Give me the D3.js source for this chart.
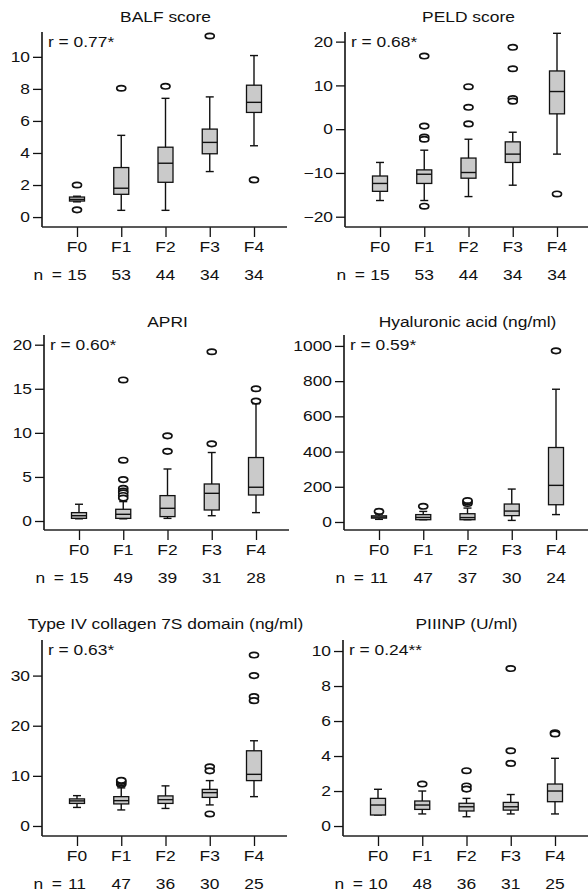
<!DOCTYPE html>
<html>
<head>
<meta charset="utf-8">
<script src="https://cdn.jsdelivr.net/npm/d3@7"></script>
<style>body{margin:0;background:#fff}</style>
</head>
<body>
<div id="g"></div>
<script>
var stages = ["F0", "F1", "F2", "F3", "F4"];

// each box: [lower whisker, q1, median, q3, upper whisker]
var balfBoxes = [[0.95, 1.0, 1.1, 1.25, 1.3], [0.42, 1.42, 1.8, 3.09, 5.1], [0.42, 2.17, 3.36, 4.36, 7.41], [2.84, 3.95, 4.66, 5.49, 7.5], [4.45, 6.53, 7.16, 8.23, 10.08]];
var balfOutliers = [[2.0, 0.45], [8.04], [8.16], [11.3], [2.32]];
var balfN = [15, 53, 44, 34, 34];

var peldBoxes = [[-16.3, -14.2, -12.4, -10.7, -7.6], [-16.3, -12.4, -10.3, -9.3, -4.8], [-15.4, -11.2, -9.9, -6.6, -2.3], [-12.8, -7.6, -5.7, -2.9, -0.7], [-5.7, 3.5, 8.6, 13.3, 21.9]];
var peldOutliers = [[], [16.7, 0.7, -1.8, -2.3, -17.6], [9.7, 5.0, 1.2], [18.7, 13.8, 7.0, 6.4], [-14.8]];
var peldN = [15, 53, 44, 34, 34];

var apriBoxes = [[0.25, 0.3, 0.6, 0.95, 1.9], [0.25, 0.3, 0.76, 1.33, 2.2], [0.3, 0.5, 1.44, 2.88, 5.9], [0.6, 1.25, 3.14, 4.2, 7.77], [0.95, 2.95, 3.83, 7.2, 13.3]];
var apriOutliers = [[], [16.0, 6.9, 4.7, 3.7, 3.4, 3.2, 2.9, 2.6], [9.66, 7.9], [19.2, 8.75], [15.0, 13.6]];
var apriN = [15, 49, 39, 31, 28];

var haBoxes = [[15, 22, 28, 35, 45], [13, 13, 26, 42, 60], [13, 13, 25, 47, 79], [9, 36, 62, 102, 187], [42, 98, 208, 423, 754]];
var haOutliers = [[60], [89], [105, 115, 122], [], [972]];
var haN = [11, 47, 37, 30, 24];

var col4Boxes = [[3.7, 4.5, 5.0, 5.4, 6.05], [3.2, 4.4, 5.05, 5.85, 7.6], [3.5, 4.5, 5.25, 6.0, 8.0], [4.2, 5.7, 6.65, 7.3, 9.05], [5.85, 9.05, 10.3, 15.0, 17.0]];
var col4Outliers = [[], [8.3, 8.6, 8.9, 9.1], [], [11.8, 11.0, 2.4], [34.1, 30.0, 25.8, 25.0]];
var col4N = [11, 47, 36, 30, 25];

var piiinpBoxes = [[0.63, 0.63, 1.2, 1.58, 2.1], [0.69, 0.95, 1.2, 1.43, 2.0], [0.53, 0.86, 1.1, 1.3, 1.58], [0.69, 0.91, 1.1, 1.35, 1.8], [0.69, 1.39, 2.0, 2.4, 3.87]];
var piiinpOutliers = [[], [2.4], [3.16, 2.29, 2.11], [9.0, 4.3, 3.58], [5.33, 5.26]];
var piiinpN = [10, 48, 36, 31, 25];

var panels = [
    {title: "BALF score", r: "r = 0.77*", boxes: balfBoxes, outliers: balfOutliers, n: balfN,
        ticks: [0, 2, 4, 6, 8, 10], domain: [-0.62, 11.55], x: 42, top: 32, bottom: 227, titleY: 21.5},
    {title: "PELD score", r: "r = 0.68*", boxes: peldBoxes, outliers: peldOutliers, n: peldN,
        ticks: [-20, -10, 0, 10, 20], domain: [-22.35, 22.2], x: 345, top: 32, bottom: 227, titleY: 21.5},
    {title: "APRI", r: "r = 0.60*", boxes: apriBoxes, outliers: apriOutliers, n: apriN,
        ticks: [0, 5, 10, 15, 20], domain: [-1.02, 21.1], x: 44, top: 335, bottom: 530, titleY: 327},
    {title: "Hyaluronic acid (ng/ml)", r: "r = 0.59*", boxes: haBoxes, outliers: haOutliers, n: haN,
        ticks: [0, 200, 400, 600, 800, 1000], domain: [-45.5, 1062], x: 344, top: 335, bottom: 530, titleY: 327},
    {title: "Type IV collagen 7S domain (ng/ml)", r: "r = 0.63*", boxes: col4Boxes, outliers: col4Outliers, n: col4N,
        ticks: [0, 10, 20, 30], domain: [-2.0, 37.1], x: 42, top: 640, bottom: 836, titleY: 628.5},
    {title: "PIIINP (U/ml)", r: "r = 0.24**", boxes: piiinpBoxes, outliers: piiinpOutliers, n: piiinpN,
        ticks: [0, 2, 4, 6, 8, 10], domain: [-0.57, 10.63], x: 343, top: 640, bottom: 836, titleY: 628.5}
];

var FONT = "'Liberation Sans', Arial, Helvetica, sans-serif";
var INK = "#111";
var BOX_W = 15, CAP_W = 8;

var svg = d3.select("#g").append("svg")
    .attr("width", 588)
    .attr("height", 893);

function label(g, x, y, txt, anchor) {
    return g.append("text")
        .attr("transform", "translate(" + x + "," + y + ") scale(1.2,1)")
        .attr("text-anchor", anchor || "middle")
        .attr("font-family", FONT)
        .attr("font-size", 14.5)
        .attr("fill", INK)
        .text(txt);
}

panels.forEach(function(p) {

    var g = svg.append("g");

    var x = d3.scalePoint().domain(stages).range([p.x + 35, p.x + 212]);
    var y = d3.scaleLinear().domain(p.domain).range([p.bottom, p.top]);

    /* ---------- y axis ---------- */
    var ya = g.append("g")
        .attr("transform", "translate(" + p.x + ",0)")
        .call(d3.axisLeft(y).tickValues(p.ticks).tickSize(9).tickSizeOuter(0).tickFormat(d3.format("d")));
    ya.select(".domain").remove();
    ya.selectAll("line").attr("stroke", INK).attr("stroke-width", 1.3);
    ya.selectAll("text")
        .attr("x", null)
        .attr("transform", "translate(-12,0) scale(1.2,1)")
        .attr("font-family", FONT)
        .attr("font-size", 14.5)
        .attr("fill", INK);

    /* ---------- x axis ---------- */
    var xa = g.append("g")
        .attr("transform", "translate(0," + p.bottom + ")")
        .call(d3.axisBottom(x).tickSize(10).tickSizeOuter(0).tickFormat(""));
    xa.select(".domain").remove();
    xa.selectAll("line").attr("stroke", INK).attr("stroke-width", 1.3);

    g.append("line")
        .attr("x1", p.x).attr("x2", p.x)
        .attr("y1", p.top).attr("y2", p.bottom)
        .attr("stroke", INK).attr("stroke-width", 1.6);
    g.append("line")
        .attr("x1", p.x).attr("x2", p.x + 245)
        .attr("y1", p.bottom).attr("y2", p.bottom)
        .attr("stroke", "#222").attr("stroke-width", 1.6);

    /* ---------- texts ---------- */
    label(g, x("F2"), p.titleY, p.title);
    label(g, p.x + 6, p.top + 15, p.r, "start");
    stages.forEach(function(s, i) {
        label(g, x(s), p.bottom + 25, s);
        label(g, x(s), p.bottom + 53, p.n[i]);
    });
    label(g, x("F0") - 15, p.bottom + 53, "n\u2002=", "end");

    /* ---------- boxes ---------- */
    var item = g.selectAll(".item")
        .data(p.boxes)
        .enter()
        .append("g")
        .attr("class", "item")
        .attr("transform", function(d, i) { return "translate(" + x(stages[i]) + ",0)"; });

    item.append("line")
        .attr("x1", 0).attr("x2", 0)
        .attr("y1", function(d) { return y(d[0]); })
        .attr("y2", function(d) { return y(d[4]); })
        .attr("stroke", INK).attr("stroke-width", 1.4);

    item.selectAll(".cap")
        .data(function(d) { return [d[0], d[4]]; })
        .enter()
        .append("line")
        .attr("class", "cap")
        .attr("x1", -CAP_W / 2).attr("x2", CAP_W / 2)
        .attr("y1", function(v) { return y(v); })
        .attr("y2", function(v) { return y(v); })
        .attr("stroke", INK).attr("stroke-width", 1.4);

    item.append("rect")
        .attr("x", -BOX_W / 2)
        .attr("width", BOX_W)
        .attr("y", function(d) { return y(d[3]); })
        .attr("height", function(d) { return Math.max(1, y(d[1]) - y(d[3])); })
        .attr("fill", "#cacaca")
        .attr("stroke", INK)
        .attr("stroke-width", 1.3);

    item.append("line")
        .attr("x1", -BOX_W / 2).attr("x2", BOX_W / 2)
        .attr("y1", function(d) { return y(d[2]); })
        .attr("y2", function(d) { return y(d[2]); })
        .attr("stroke", INK).attr("stroke-width", 1.4);

    /* ---------- outliers ---------- */
    item.data(p.outliers)
        .selectAll(".out")
        .data(function(d) { return d; })
        .enter()
        .append("ellipse")
        .attr("class", "out")
        .attr("cx", 0)
        .attr("cy", function(v) { return y(v); })
        .attr("rx", 4.5)
        .attr("ry", 2.7)
        .attr("fill", "#fff")
        .attr("stroke", INK)
        .attr("stroke-width", 1.7);
});
</script>
</body>
</html>
